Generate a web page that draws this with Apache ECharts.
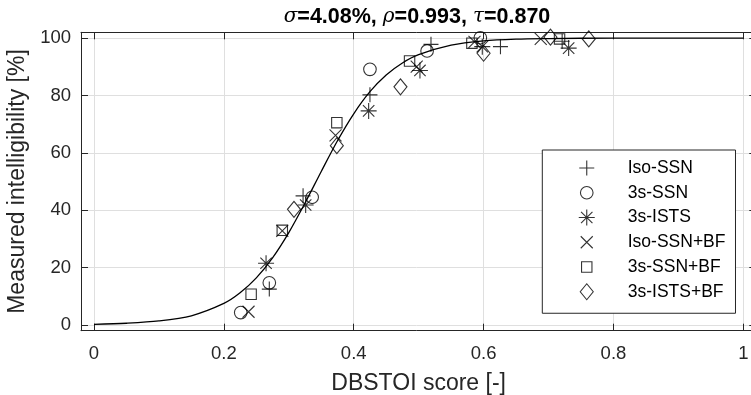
<!DOCTYPE html>
<html>
<head>
<meta charset="utf-8">
<script src="https://cdn.jsdelivr.net/npm/echarts@6/dist/echarts.min.js"></script>
<style>
  html, body { margin: 0; padding: 0; background: #fff; }
  #chart { width: 751px; height: 395px; }
</style>
</head>
<body>
<div id="chart"></div>
<script>
// Listening-test scores per condition: [DBSTOI score, measured intelligibility %]
const isoSsn   = [[0.270, 12.5], [0.322, 45.0], [0.425, 80.2], [0.519, 97.8], [0.626, 97.0], [0.721, 98.9]];
const ssn3s    = [[0.226, 4.3], [0.270, 14.7], [0.336, 44.5], [0.425, 89.1], [0.513, 95.5], [0.595, 100.1]];
const ists3s   = [[0.265, 21.5], [0.326, 41.8], [0.423, 74.6], [0.502, 88.7], [0.598, 97.0], [0.731, 96.5]];
const isoSsnBf = [[0.238, 4.6], [0.290, 32.8], [0.372, 66.1], [0.497, 90.0], [0.586, 98.7], [0.688, 99.7]];
const ssn3sBf  = [[0.242, 10.7], [0.290, 33.0], [0.374, 70.5], [0.486, 92.0], [0.582, 98.2], [0.717, 99.7]];
const ists3sBf = [[0.308, 40.3], [0.374, 62.5], [0.472, 83.0], [0.600, 94.7], [0.703, 100.3], [0.762, 99.7]];

// Fitted psychometric curve, sampled along the score axis
const fitX = [0, 0.05, 0.1, 0.15, 0.2, 0.225, 0.25, 0.275, 0.3, 0.325, 0.35, 0.375, 0.4, 0.425, 0.45, 0.475, 0.5, 0.55, 0.6, 0.65, 0.7, 0.8, 0.9, 1];
const fitY = [0.2, 0.6, 1.4, 3.2, 7.5, 11.2, 16.4, 23.4, 32.2, 42.5, 53.5, 64.2, 73.6, 81.3, 87.1, 91.3, 94.2, 97.5, 99.0, 99.6, 99.8, 100, 100, 100];

const seriesNames = ['Iso-SSN', '3s-SSN', '3s-ISTS', 'Iso-SSN+BF', '3s-SSN+BF', '3s-ISTS+BF'];
const seriesData = [isoSsn, ssn3s, ists3s, isoSsnBf, ssn3sBf, ists3sBf];

// Outline markers drawn inside a common 16x16 box (the leading moves fix the box)
const box = 'M-8,-8 M8,8 ';
const markers = [
  'path://' + box + 'M0,-7.5 L0,7.5 M-7.5,0 L7.5,0',
  'path://' + box + 'M-6.3,0 A6.3,6.3 0 1,0 6.3,0 A6.3,6.3 0 1,0 -6.3,0 Z',
  'path://' + box + 'M0,-8 L0,8 M-8,0 L8,0 M-5.7,-5.7 L5.7,5.7 M-5.7,5.7 L5.7,-5.7',
  'path://' + box + 'M-6,-6 L6,6 M-6,6 L6,-6',
  'path://' + box + 'M-5.2,-5.2 L5.2,-5.2 L5.2,5.2 L-5.2,5.2 Z',
  'path://' + box + 'M0,-8 L6.5,0 L0,8 L-6.5,0 Z'
];

const FONT = 'Liberation Sans, Arial, Helvetica, sans-serif';
const AXIS_COLOR = '#262626';
const GRID_COLOR = '#dfdfdf';

const xRange = { min: -0.02, max: 1.02 };
const yRange = { min: -2, max: 102 };

function boxAxis(range, step, pos, primary) {
  return {
    type: 'value',
    position: pos,
    min: range.min,
    max: range.max,
    splitNumber: 5,
    minInterval: step,
    maxInterval: step,
    axisLine: { show: true, onZero: false, lineStyle: { color: AXIS_COLOR, width: 1 } },
    axisTick: { show: true, inside: true, length: 7, lineStyle: { color: AXIS_COLOR, width: 1 } },
    axisLabel: primary ? {
      show: true, showMinLabel: false, showMaxLabel: false,
      color: AXIS_COLOR, fontSize: 18.5, fontFamily: FONT,
      margin: pos === 'left' ? 10 : 14
    } : { show: false },
    splitLine: { show: primary, lineStyle: { color: GRID_COLOR, width: 1 } }
  };
}

const xMain = boxAxis(xRange, 0.2, 'bottom', true);
xMain.name = 'DBSTOI score [-]';
xMain.nameLocation = 'middle';
xMain.nameGap = 41;
xMain.nameTextStyle = { color: AXIS_COLOR, fontSize: 23, fontFamily: FONT };

const yMain = boxAxis(yRange, 20, 'left', true);
yMain.name = 'Measured intelligibility [%]';
yMain.nameLocation = 'middle';
yMain.nameGap = 50;
yMain.nameTextStyle = { color: AXIS_COLOR, fontSize: 23, fontFamily: FONT };

const scatterSeries = seriesNames.map((name, i) => ({
  name: name,
  type: 'scatter',
  data: seriesData[i],
  symbol: markers[i],
  symbolSize: 16,
  itemStyle: { color: 'transparent', borderColor: '#000', borderWidth: 1.1 },
  emphasis: { disabled: true },
  silent: true,
  z: 3
}));

const option = {
  animation: false,
  backgroundColor: '#fff',
  title: {
    left: 412,
    top: 1,
    textAlign: 'center',
    text: '{g|σ}{b|=4.08%, }{g|ρ}{b|=0.993, }{g|τ}{b|=0.870}',
    textStyle: {
      rich: {
        g: { fontFamily: 'DejaVu Serif, serif', fontStyle: 'italic', fontWeight: 'normal', fontSize: 20, color: '#000' },
        b: { fontFamily: FONT, fontWeight: 'bold', fontSize: 21.5, color: '#000' }
      }
    }
  },
  grid: { left: 81, top: 32.3, width: 675.3, height: 298.4, containLabel: false, outerBoundsMode: 'none' },
  xAxis: [xMain, boxAxis(xRange, 0.2, 'top', false)],
  yAxis: [yMain, boxAxis(yRange, 20, 'right', false)],
  legend: {
    data: seriesNames,
    orient: 'vertical',
    left: 542.3,
    top: 150,
    padding: [9, 10, 12.5, 35.9],
    itemWidth: 72,
    itemHeight: 16,
    itemGap: 6.75,
    backgroundColor: '#fff',
    borderColor: AXIS_COLOR,
    borderWidth: 1,
    selectedMode: false,
    itemStyle: { color: 'transparent', borderColor: '#000', borderWidth: 1.1 },
    textStyle: { color: '#000', fontSize: 17.5, fontFamily: FONT, lineHeight: 17 }
  },
  series: [
    {
      name: 'fit',
      type: 'line',
      data: fitX.map((x, i) => [x, fitY[i]]),
      showSymbol: false,
      smooth: 0.3,
      lineStyle: { color: '#000', width: 1.3 },
      emphasis: { disabled: true },
      silent: true,
      z: 2
    }
  ].concat(scatterSeries)
};

const chart = echarts.init(document.getElementById('chart'), null, { renderer: 'canvas' });
chart.setOption(option);
</script>
</body>
</html>
